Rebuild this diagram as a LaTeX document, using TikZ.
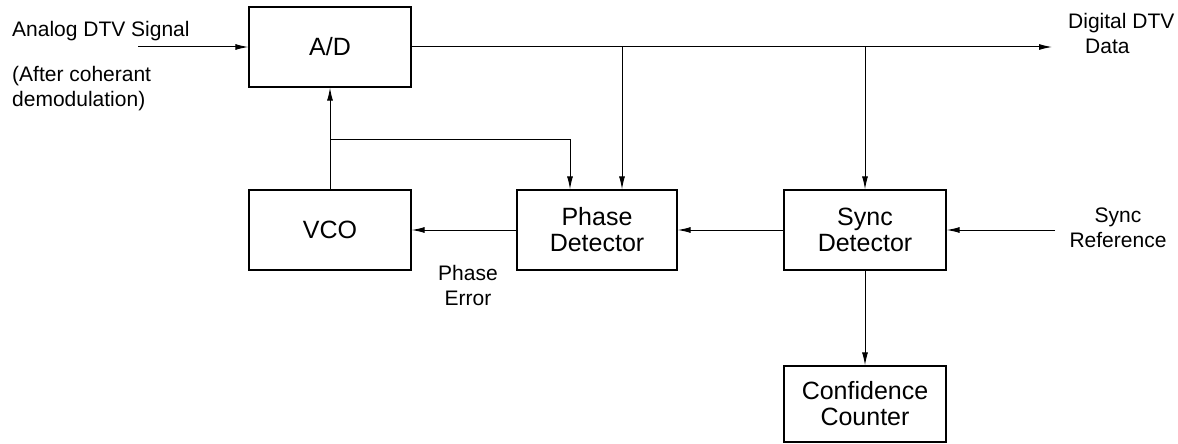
\documentclass[tikz,border=0pt]{standalone}
\usepackage{fontspec}
\setmainfont{Liberation Sans}
\usetikzlibrary{calc, positioning}
\usetikzlibrary{arrows.meta}

\tikzset{
  blk/.style={draw, line width=1.3pt, minimum width=162pt, minimum height=80pt,
    inner sep=0pt, align=center, font=\fontsize{25}{26}\selectfont},
  lbl/.style={inner sep=0pt, font=\fontsize{21}{25}\selectfont},
  sig/.style={line width=1pt, -{Latex[length=13pt,width=6pt]}},
}

\begin{document}
\begin{tikzpicture}[x=1pt, y=-1pt]
\useasboundingbox (0,0) rectangle (1178,444);

\def\yTop{47}
\def\yMid{230}

% blocks
\node[blk] (AD) at (330,\yTop) {A/D};
\node[blk] (VCO) at (330,\yMid) {VCO};
\node[blk, minimum width=160pt] (PD) at (597,\yMid) {Phase\\Detector};
\node[blk] (SD) at (865,\yMid) {Sync\\Detector};
\node[blk, minimum height=76pt] (CC) at (865,404) {Confidence\\Counter};

\coordinate (In) at (138,\yTop);
\coordinate (Out) at (1052,\yTop);
\coordinate (SRef) at (1055,\yMid);
\coordinate (TapA) at (622,\yTop);
\coordinate (TapB) at (SD.north |- AD.east);
\coordinate (Loop) at (330,139);
\coordinate (LoopEnd) at (570,139);

\draw[sig] (In) -- (AD.west);
\draw[sig] (AD.east) -- (Out);
\draw[sig] (TapA) -- (TapA |- PD.north);
\draw[sig] (TapB) -- (SD.north);
\draw[sig] (VCO.north) -- (AD.south);
\draw[sig] (Loop) -- (LoopEnd) -- (LoopEnd |- PD.north);
\draw[sig] (PD.west) -- (VCO.east);
\draw[sig] (SD.west) -- (PD.east);
\draw[sig] (SRef) -- (SD.east);
\draw[sig] (SD.south) -- (CC.north);

% labels
\node[lbl, anchor=west] (AnIn) at (12,31) {Analog DTV Signal};
\node[lbl, anchor=west, align=left] (AnNote) at (12,89) {(After coherant\\demodulation)};
\node[lbl, anchor=west, align=left] (DigOut) at (1068,33) {Digital DTV\\\hspace*{17pt}Data};
\node[lbl, align=center] (SyncRef) at (1118,228) {Sync\\Reference};
\node[lbl, align=center] (PhErr) at (468,285) {Phase\\Error};
\end{tikzpicture}
\end{document}
